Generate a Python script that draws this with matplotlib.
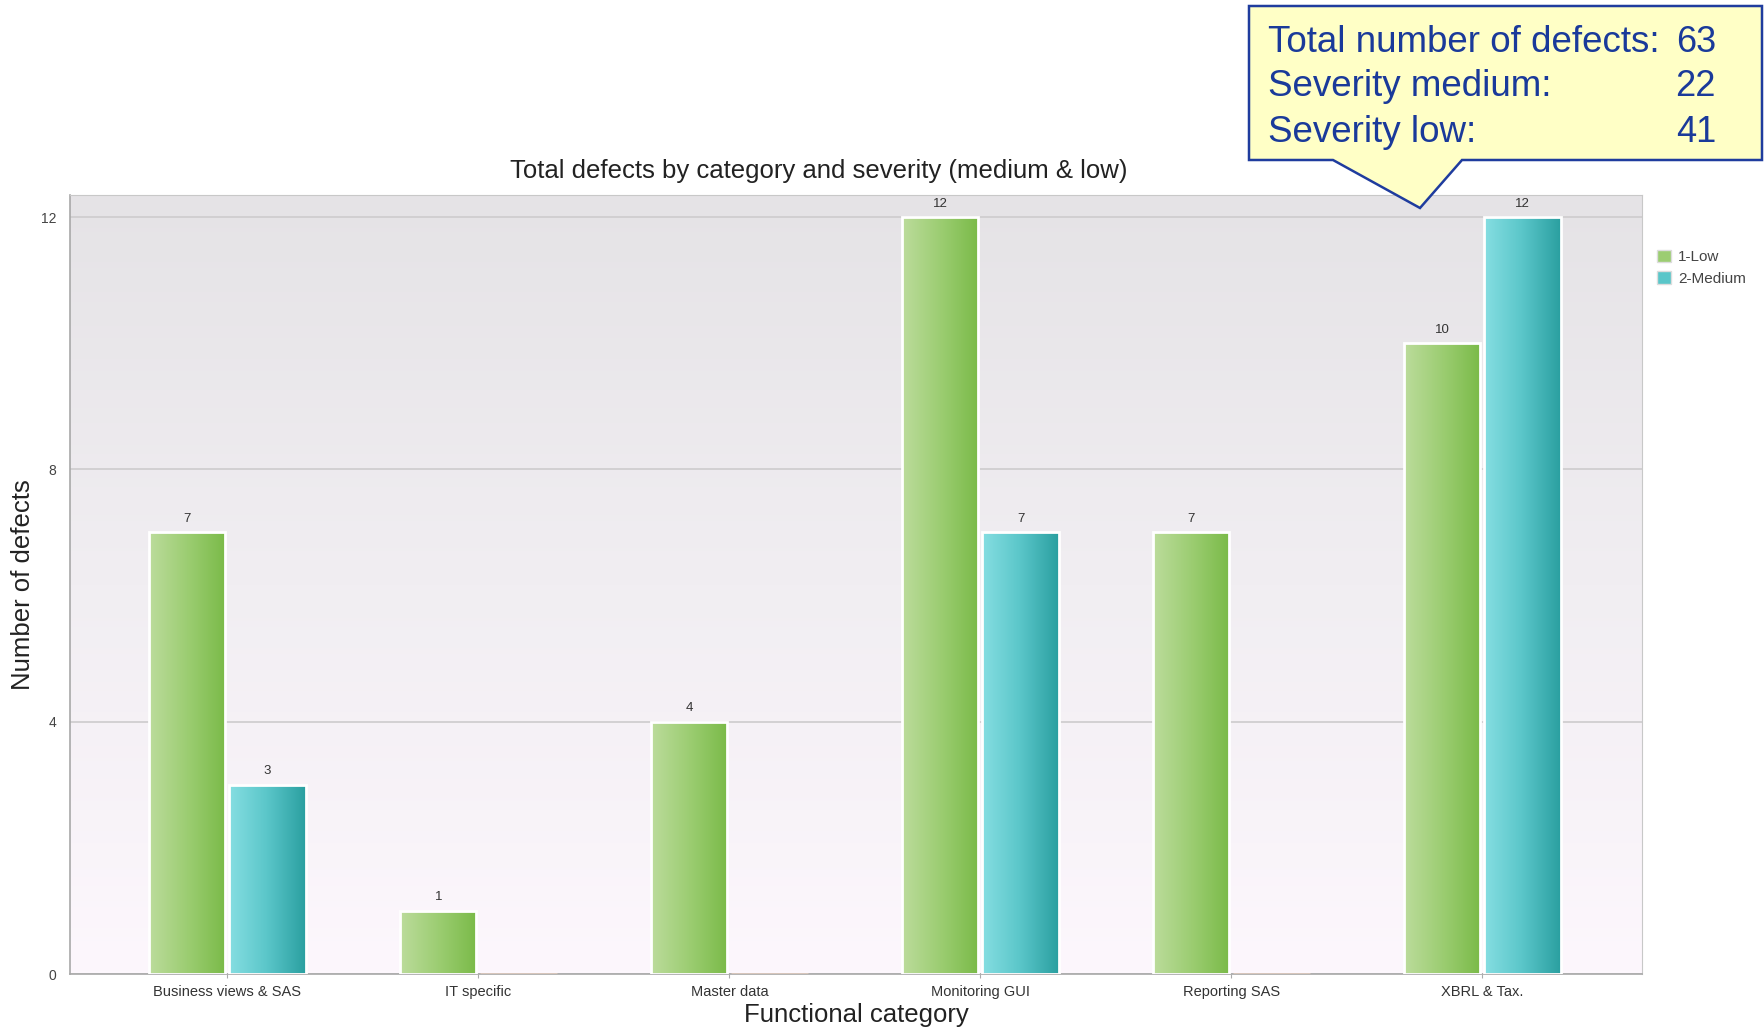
import numpy as np
import matplotlib
matplotlib.use("Agg")
import matplotlib.pyplot as plt
from matplotlib.colors import LinearSegmentedColormap
from matplotlib.patches import Polygon, Patch

plt.rcParams['font.family'] = ['Liberation Sans', 'DejaVu Sans']

# data
categories = ['Business views & SAS', 'IT specific', 'Master data',
              'Monitoring GUI', 'Reporting SAS', 'XBRL & Tax.']
low = [7, 1, 4, 12, 7, 10]
medium = [3, 0, 0, 7, 0, 12]
series_names = ['1-Low', '2-Medium']
yticks = [0, 4, 8, 12]

green = LinearSegmentedColormap.from_list('g', ['#bcdc9c', '#9ccd72', '#7aba48'])
teal = LinearSegmentedColormap.from_list('t', ['#86dee2', '#5ac6c9', '#2a9fa0'])
bg = LinearSegmentedColormap.from_list('bg', ['#fdf7fd', '#f1eef2', '#e5e3e6'])

fig = plt.figure(figsize=(17.64, 10.27), dpi=100)
ax = fig.add_axes([70/1764, 1-974/1027, (1642-70)/1764, (974-195)/1027])

# background gradient
ax.imshow(np.linspace(0, 1, 256).reshape(-1, 1), cmap=bg, origin='lower',
          extent=[0, 1, 0, 1], transform=ax.transAxes, aspect='auto', zorder=0)

x = np.arange(len(categories))
w = 0.305
off = 0.16


def gradient_bars(vals, pos, cmap):
    edges = ['white' if v > 0 else '#dcc8bc' for v in vals]
    bars = ax.bar(pos, vals, width=w, facecolor='none', edgecolor=edges,
                  linewidth=2, zorder=3)
    grad = np.linspace(0, 1, 256).reshape(1, -1)
    for b, v in zip(bars, vals):
        if v == 0:
            continue
        bx, by = b.get_xy()
        im = ax.imshow(grad, cmap=cmap, extent=[bx, bx + b.get_width(), by, by + b.get_height()],
                       aspect='auto', zorder=2, interpolation='bicubic')
        im.set_clip_path(b)
        ax.text(bx + b.get_width()/2, v + 0.12, str(v), ha='center', va='bottom',
                fontsize=9.5, color='#333333', zorder=4)
    return bars


gradient_bars(low, x - off, green)
gradient_bars(medium, x + off, teal)

ax.set_xlim(-0.627, 5.636)
ax.set_ylim(0, 12.35)
ax.set_yticks(yticks)
ax.set_xticks(x)
ax.set_xticklabels(categories, fontsize=10.5, color='#333333')
ax.tick_params(axis='y', length=0, pad=10, labelsize=10, labelcolor='#444444')
ax.tick_params(axis='x', length=3, pad=5, color='#aaaaaa')
ax.set_axisbelow(True)
ax.yaxis.grid(True, color='#cdcbcd', linewidth=1.2)
for s in ['top', 'right']:
    ax.spines[s].set_color('#c8c8c8')
for s in ['left', 'bottom']:
    ax.spines[s].set_color('#a8a8a8')
    ax.spines[s].set_linewidth(1.2)

ax.set_title('Total defects by category and severity (medium & low)',
             fontsize=18.5, color='#222222', pad=12, x=0.476)
ax.set_xlabel('Functional category', fontsize=18.5, color='#222222', labelpad=3)
ax.set_ylabel('Number of defects', fontsize=18.5, color='#222222')
ax.yaxis.set_label_coords(-0.022, 0.5)

handles = [Patch(facecolor=green(0.5), edgecolor='#dddddd'),
           Patch(facecolor=teal(0.5), edgecolor='#dddddd')]
fig.legend(handles, series_names, loc='upper left', bbox_to_anchor=(1643/1764, 1-236/1027),
           frameon=False, fontsize=11, handlelength=0.9, handleheight=0.9,
           handletextpad=0.5, labelspacing=0.45, labelcolor='#444444')

# callout box
px = lambda a, b: (a/1764, 1 - b/1027)
pts = [px(1249, 6), px(1762, 6), px(1762, 160), px(1462, 160), px(1420, 208),
       px(1333, 160), px(1249, 160)]
fig.patches.append(Polygon(pts, closed=True, facecolor='#ffffc6', edgecolor='#1f3c9e',
                           linewidth=1.8, transform=fig.transFigure, zorder=5))
rows = [('Total number of defects:', sum(low) + sum(medium)),
        ('Severity medium:', sum(medium)),
        ('Severity low:', sum(low))]
for i, (lab, val) in enumerate(rows):
    yy = 42 + 45*i
    fig.text(*px(1268, yy), lab, fontsize=26.5, color='#1a3a9a', va='center', ha='left', zorder=6)
    fig.text(*px(1716, yy), str(val), fontsize=26, color='#1a3a9a', va='center', ha='right', zorder=6)

fig.savefig('out.png', dpi=100, facecolor='white')
